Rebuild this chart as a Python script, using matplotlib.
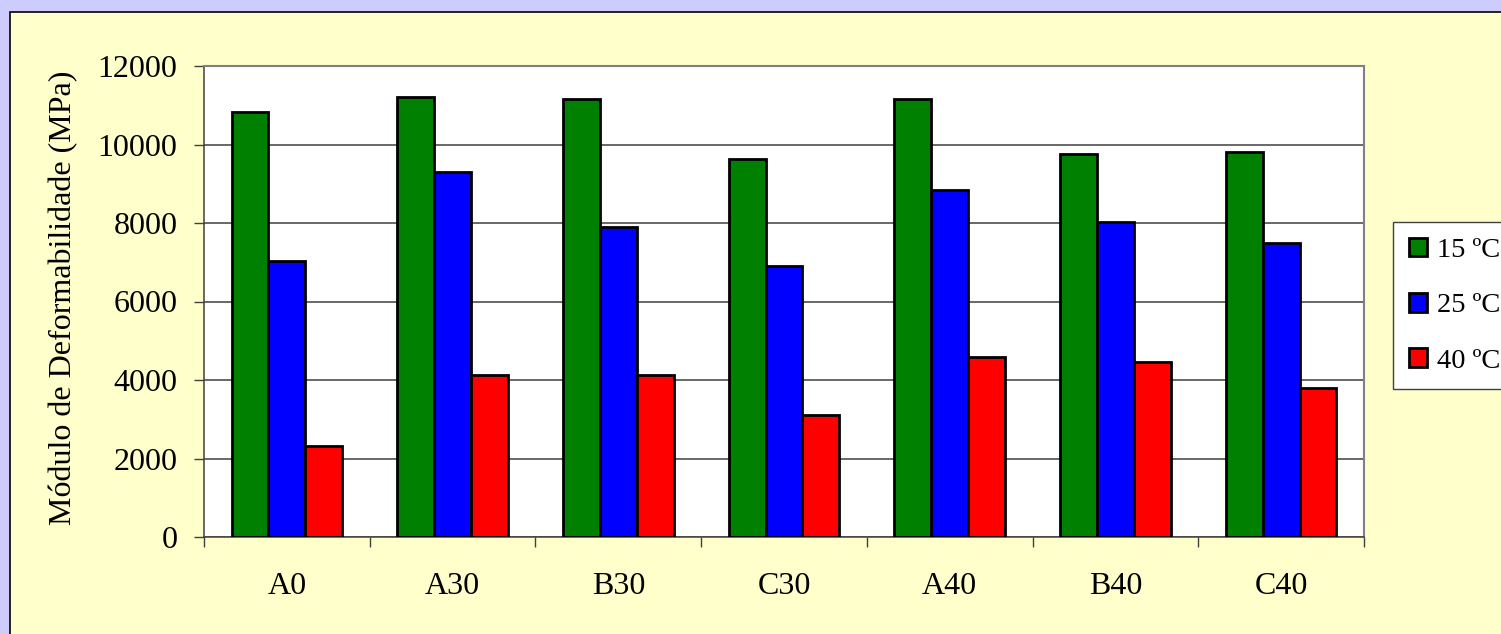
import matplotlib.pyplot as plt
from matplotlib.patches import Rectangle
import numpy as np

# Deformability modulus per mixture and test temperature
MIXTURES = ['A0', 'A30', 'B30', 'C30', 'A40', 'B40', 'C40']
TEMPS = ['15 ºC', '25 ºC', '40 ºC']
MOD_15 = [10820, 11220, 11160, 9630, 11160, 9750, 9820]
MOD_25 = [7040, 9290, 7900, 6900, 8830, 8030, 7490]
MOD_40 = [2320, 4120, 4120, 3120, 4590, 4450, 3790]
COLORS = ['#008000', '#0000ff', '#ff0000']

W, H = 1501, 634
plt.rcParams['font.family'] = ['Liberation Serif', 'DejaVu Serif']
FS = 23

fig = plt.figure(figsize=(W / 100, H / 100), dpi=100)
fig.patch.set_facecolor('#ccccff')

# light yellow chart panel with a black frame
panel = Rectangle((10 / W, -0.2), 1.2, (H - 12) / H + 0.2, transform=fig.transFigure,
                  facecolor='#ffffcc', edgecolor='black', linewidth=1.2, zorder=-10)
fig.patches.append(panel)

ax = fig.add_axes([204 / W, (H - 537) / H, 1160 / W, 471 / H])
ax.set_facecolor('white')

x = np.arange(len(MIXTURES))
bw = 2 / 9
for i, (vals, col, lab) in enumerate(zip([MOD_15, MOD_25, MOD_40], COLORS, TEMPS)):
    ax.bar(x + (i - 1) * bw, vals, bw, color=col, edgecolor='black',
           linewidth=2.0, label=lab, zorder=3)

ax.set_xlim(-0.5, len(MIXTURES) - 0.5)
ax.set_ylim(0, 12000)
ax.set_yticks(range(0, 12001, 2000))
ax.yaxis.grid(True, color='#404040', linewidth=1.1, zorder=0)

ax.set_xticks(x)
ax.set_xticklabels(MIXTURES)
ax.set_xticks(np.arange(-0.5, len(MIXTURES)), minor=True)
ax.tick_params(axis='x', which='major', length=0, pad=25, labelsize=FS)
ax.tick_params(axis='x', which='minor', length=7.2, width=1, color='#404040', direction='out')
ax.tick_params(axis='y', length=7.2, width=1, color='#404040', direction='out',
               pad=12, labelsize=FS)

for s in ['top', 'right']:
    ax.spines[s].set_color('#808080')
    ax.spines[s].set_linewidth(1.5)
for s in ['left', 'bottom']:
    ax.spines[s].set_color('#404040')
    ax.spines[s].set_linewidth(1.1)

fig.text(64 / W, 1 - 298 / H, 'Módulo de Deformabilidade (MPa)', rotation=90,
         ha='center', va='center', fontsize=FS)

leg = ax.legend(loc='upper left', bbox_to_anchor=(1393 / W, 1 - 222 / H),
                bbox_transform=fig.transFigure, fontsize=20.5, frameon=True,
                fancybox=False, edgecolor='#404040', facecolor='white', framealpha=1,
                handlelength=0.66, handleheight=0.64, handletextpad=0.33,
                labelspacing=1.05, borderpad=0.55, borderaxespad=0)
leg.get_frame().set_linewidth(1.0)
for p in leg.get_patches():
    p.set_linewidth(2.0)

fig.savefig('out.png', dpi=100, facecolor=fig.get_facecolor())
